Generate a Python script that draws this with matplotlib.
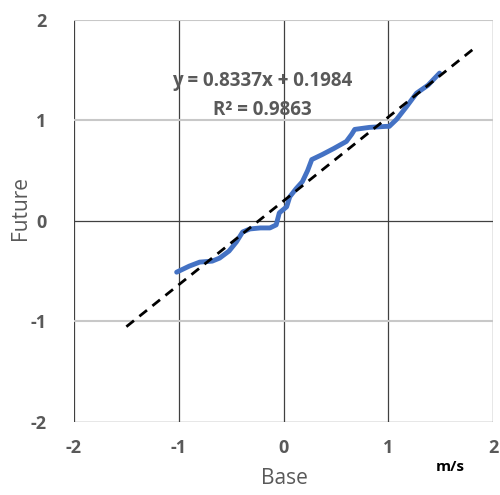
import numpy as np
import matplotlib.pyplot as plt

# traced quantile curve, base vs future wind speed anomaly (m/s)
base = [-1.02, -0.90, -0.80, -0.68, -0.61, -0.52, -0.45, -0.39, -0.32, -0.22, -0.13, -0.07,
        -0.04, 0.03, 0.06, 0.12, 0.18, 0.23, 0.27, 0.37, 0.48, 0.60, 0.65, 0.68,
        0.82, 0.98, 1.01, 1.08, 1.17, 1.27, 1.38, 1.49]
future = [-0.51, -0.45, -0.41, -0.40, -0.37, -0.30, -0.21, -0.11, -0.08, -0.07, -0.07, -0.04,
          0.08, 0.14, 0.24, 0.32, 0.39, 0.50, 0.61, 0.66, 0.72, 0.79, 0.86, 0.91,
          0.93, 0.94, 0.94, 1.01, 1.13, 1.27, 1.35, 1.47]

slope = 0.8337
icpt = 0.1984
r2 = 0.9863
fit_x = [-1.5, 1.81]
ticks = [-2, -1, 0, 1, 2]

plt.rcParams['font.family'] = ['Open Sans', 'DejaVu Sans']
plt.rcParams['axes.unicode_minus'] = False
fig = plt.figure(figsize=(5, 4.95), dpi=100)
ax = fig.add_axes([0.148, 0.1475, 0.838, 0.8125])

ax.set_xlim(-2, 2)
ax.set_ylim(-2, 2)
ax.set_xticks(ticks)
ax.set_yticks(ticks)

dark = '#404040'
light = '#c8c8c8'
for t in ticks:
    ax.axvline(t, color=dark, lw=0.9, zorder=1)
for t in ticks:
    if t in (0, -2):
        ax.axhline(t, color=dark, lw=0.9, zorder=1)
    else:
        ax.axhline(t, color=light, lw=1.5, zorder=1)
for s in ax.spines.values():
    s.set_visible(False)

ax.plot(base, future, color='#4472C4', lw=3.5, solid_capstyle='round', zorder=2)
fx = np.array(fit_x)
ax.plot(fx, slope * fx + icpt, color='black', lw=2, ls=(0, (3.5, 2.5)), zorder=3)

ax.tick_params(length=0, labelsize=13, colors='#595959', pad=12)
for lab in ax.get_xticklabels() + ax.get_yticklabels():
    lab.set_fontweight('bold')
ax.tick_params(axis='y', pad=20)

ax.text(-0.2, 1.39, 'y = %.4fx + %.4f' % (slope, icpt), ha='center', va='center',
        fontsize=13.5, fontweight='bold', color='#595959')
ax.text(-0.2, 1.10, 'R² = %.4f' % r2, ha='center', va='center',
        fontsize=13.5, fontweight='bold', color='#595959')

fig.text(0.568, 0.033, 'Base', ha='center', va='center', fontsize=15, color='#595959')
fig.text(0.04, 0.58, 'Future', ha='center', va='center', rotation=90, fontsize=15, color='#595959')
fig.text(0.9, 0.057, 'm/s', ha='center', va='center', fontsize=11, fontweight='bold', color='black')

fig.savefig('out.png')
